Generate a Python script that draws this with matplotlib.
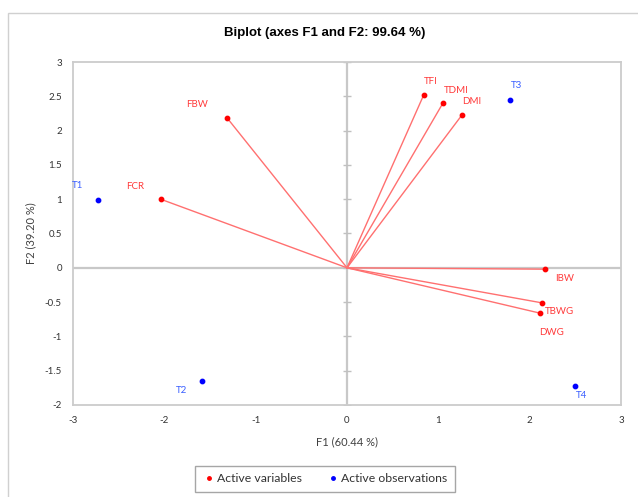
import matplotlib
matplotlib.use("Agg")
import matplotlib.pyplot as plt
from matplotlib.patches import Rectangle
from matplotlib.lines import Line2D

# ---- data ----
var_names = ["TFI", "TDMI", "DMI", "FBW", "FCR", "IBW", "TBWG", "DWG"]
var_x = [0.84, 1.05, 1.26, -1.31, -2.04, 2.17, 2.13, 2.11]
var_y = [2.52, 2.40, 2.23, 2.18, 1.00, -0.02, -0.51, -0.66]

obs_names = ["T1", "T2", "T3", "T4"]
obs_x = [-2.73, -1.59, 1.78, 2.50]
obs_y = [0.99, -1.65, 2.45, -1.72]

x_ticks = [-3, -2, -1, 0, 1, 2, 3]
y_ticks = [-2, -1.5, -1, -0.5, 0, 0.5, 1, 1.5, 2, 2.5, 3]

# label offsets in pixels (styling)
var_off = {"TFI": (7, 13, "center"), "TDMI": (13, 13, "center"), "DMI": (10, 13, "center"),
           "FBW": (-30, 14, "center"), "FCR": (-25, 13, "center"), "IBW": (10, -9, "left"),
           "TBWG": (3, -9, "left"), "DWG": (-1, -19, "left")}
obs_off = {"T1": (-20, 14, "center"), "T2": (-20, -10, "center"),
           "T3": (7, 14, "center"), "T4": (6, -10, "center")}

FONT = ["Lato", "DejaVu Sans"]
plt.rcParams["font.family"] = FONT

fig = plt.figure(figsize=(6.38, 4.97), dpi=100)
# outer frame of the chart area
fig.patches.append(Rectangle((8 / 638, -0.1), 1.2, (497 - 13) / 497 + 0.1,
                             transform=fig.transFigure, fill=False,
                             edgecolor="#d0d0d0", linewidth=1.0))

ax = fig.add_axes([73 / 638, 92 / 497, 548 / 638, 343 / 497])
ax.set_xlim(-3, 3)
ax.set_ylim(-2, 3)
ax.set_xticks(x_ticks)
ax.set_yticks(y_ticks)
ax.set_xticklabels([f"{t:g}" for t in x_ticks])
ax.set_yticklabels([f"{t:g}" for t in y_ticks])
ax.tick_params(length=0, labelsize=7, colors="#333333", pad=8)
for s in ax.spines.values():
    s.set_color("#cccccc")
    s.set_linewidth(1.3)

# zero lines with tick marks on the vertical one
ax.axhline(0, color="#c8c8c8", lw=1.6, zorder=1)
ax.axvline(0, color="#c8c8c8", lw=1.6, zorder=1)
ax.plot([0] * len(y_ticks), y_ticks, ls="none", marker="_", ms=6, mew=1, color="#c0c0c0", zorder=1)

# variable vectors
for x, y in zip(var_x, var_y):
    ax.plot([0, x], [0, y], color="#ff7070", lw=1.0, zorder=2)
ax.scatter(var_x, var_y, s=10, color="#ff0000", zorder=3)
ax.scatter(obs_x, obs_y, s=10, color="#0000ff", zorder=3)

for n, x, y in zip(var_names, var_x, var_y):
    dx, dy, ha = var_off[n]
    ax.annotate(n, (x, y), xytext=(dx, dy), textcoords="offset pixels",
                ha=ha, va="center", fontsize=7, color="#ff3b3b")
for n, x, y in zip(obs_names, obs_x, obs_y):
    dx, dy, ha = obs_off[n]
    ax.annotate(n, (x, y), xytext=(dx, dy), textcoords="offset pixels",
                ha=ha, va="center", fontsize=7, color="#3a5fff")

ax.set_xlabel("F1 (60.44 %)", fontsize=8, color="#404040", labelpad=8)
ax.set_ylabel("F2 (39.20 %)", fontsize=8, color="#404040", labelpad=6)

fig.text(325 / 638, 1 - 33 / 497, "Biplot (axes F1 and F2: 99.64 %)",
         ha="center", va="center", fontsize=9.5, fontweight="bold",
         family=["Liberation Sans Narrow", "Liberation Sans", "DejaVu Sans"], color="#000000")

handles = [Line2D([], [], ls="none", marker="o", ms=2.5, color="#ff0000"),
           Line2D([], [], ls="none", marker="o", ms=2.5, color="#0000ff")]
leg = fig.legend(handles, ["Active variables", "Active observations"],
                 loc="center", bbox_to_anchor=(325 / 638, 1 - 479 / 497),
                 ncol=2, fontsize=8.8, frameon=True, fancybox=False,
                 handletextpad=0.2, columnspacing=2.0, handlelength=1.0,
                 borderpad=0.6, borderaxespad=0)
leg.get_frame().set_edgecolor("#909090")
leg.get_frame().set_linewidth(1.0)
for t in leg.get_texts():
    t.set_color("#333333")

fig.savefig("out.png", dpi=100)
